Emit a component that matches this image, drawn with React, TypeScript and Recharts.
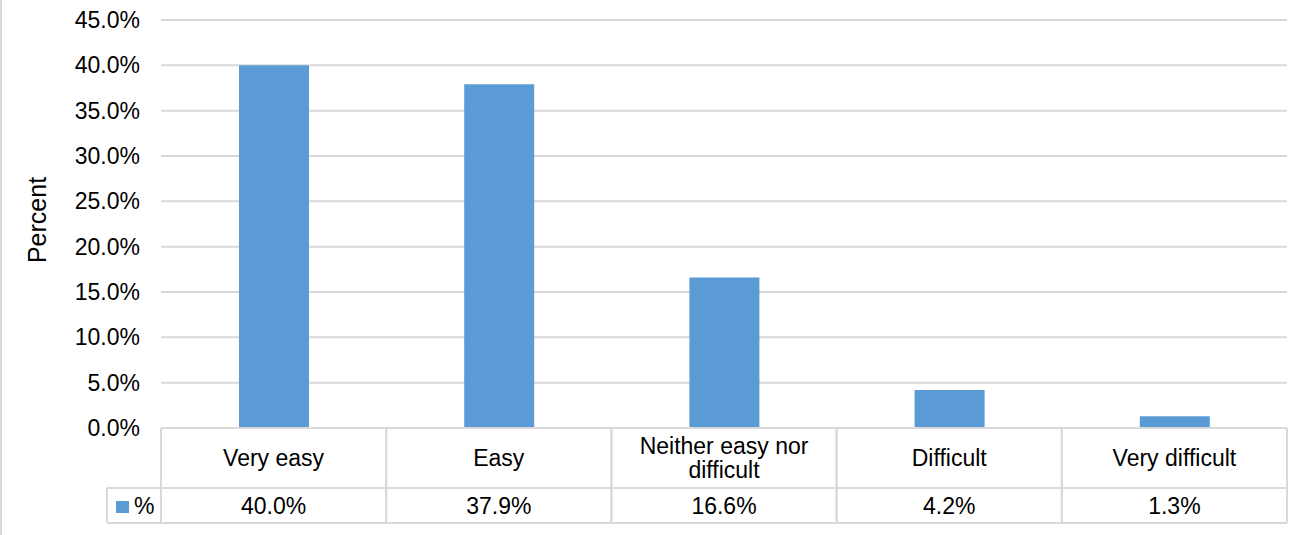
import { BarChart, Bar, XAxis, YAxis, CartesianGrid, Label } from "recharts";

const categories = ["Very easy", "Easy", "Neither easy nor difficult", "Difficult", "Very difficult"];
const percents = [40.0, 37.9, 16.6, 4.2, 1.3];
const yTicks = [0, 5, 10, 15, 20, 25, 30, 35, 40, 45];
const seriesName = "%";
const axisTitle = "Percent";

const data = categories.map((category, i) => ({ category, value: percents[i] }));

const W = 1312;
const H = 535;
const PLOT_LEFT = 161;
const PLOT_RIGHT = 25;
const PLOT_TOP = 20;
const TABLE_H = 107;
const ROW1 = 60;
const ROW2 = 35;
const LINE_H = 24;
const BORDER = "#d9d9d9";
const BLUE = "#5b9bd5";
const FONT = "'Liberation Sans', Arial, sans-serif";
const FS = 23;

const fmt = (v: number) => `${v.toFixed(1)}%`;

// word wrap with canvas text measurement
let ctx: CanvasRenderingContext2D | null = null;
function wrap(text: string, maxWidth: number): string[] {
  if (!ctx) ctx = document.createElement("canvas").getContext("2d");
  if (!ctx) return [text];
  ctx.font = `${FS}px ${FONT}`;
  const words = text.split(" ");
  const lines: string[] = [];
  let cur = "";
  for (const w of words) {
    const next = cur ? `${cur} ${w}` : w;
    if (cur && ctx.measureText(next).width > maxWidth) {
      lines.push(cur);
      cur = w;
    } else {
      cur = next;
    }
  }
  if (cur) lines.push(cur);
  return lines;
}

// Draws one column of the data table under the plot (category + value cells)
function TableTick(props: any) {
  const { x, y, payload, index } = props;
  const band = (W - PLOT_LEFT - PLOT_RIGHT) / categories.length;
  const left = x - band / 2;
  const right = x + band / 2;
  const bottom = y + ROW1 + ROW2;
  const i = categories.indexOf(payload.value);
  const lines = wrap(String(payload.value), band - 30);
  const firstY = y + ROW1 / 2 - ((lines.length - 1) * LINE_H) / 2;
  return (
    <g>
      <line x1={left} y1={y} x2={left} y2={bottom} stroke={BORDER} strokeWidth={2} />
      <line x1={right} y1={y} x2={right} y2={bottom} stroke={BORDER} strokeWidth={2} />
      <line x1={left} y1={y + ROW1} x2={right} y2={y + ROW1} stroke={BORDER} strokeWidth={2} />
      <line x1={left} y1={bottom} x2={right} y2={bottom} stroke={BORDER} strokeWidth={2} />
      <text textAnchor="middle" dominantBaseline="central" fontSize={FS} fontFamily={FONT} fill="#000">
        {lines.map((ln, k) => (
          <tspan key={k} x={x} y={firstY + k * LINE_H}>
            {ln}
          </tspan>
        ))}
      </text>
      <text
        x={x}
        y={y + ROW1 + ROW2 / 2}
        textAnchor="middle"
        dominantBaseline="central"
        fontSize={FS}
        fontFamily={FONT}
        fill="#000"
      >
        {fmt(percents[i])}
      </text>
      {index === 0 && (
        <g>
          <line x1={left - 54} y1={y + ROW1} x2={left - 54} y2={bottom} stroke={BORDER} strokeWidth={2} />
          <line x1={left - 54} y1={y + ROW1} x2={left} y2={y + ROW1} stroke={BORDER} strokeWidth={2} />
          <line x1={left - 54} y1={bottom} x2={left} y2={bottom} stroke={BORDER} strokeWidth={2} />
          <rect x={left - 45} y={y + ROW1 + 13} width={13} height={12} fill={BLUE} />
          <text
            x={left - 27}
            y={y + ROW1 + ROW2 / 2}
            dominantBaseline="central"
            fontSize={FS}
            fontFamily={FONT}
            fill="#000"
          >
            {seriesName}
          </text>
        </g>
      )}
    </g>
  );
}

function YTitle(props: any) {
  const vb = props.viewBox;
  const cx = 37;
  const cy = vb.y + vb.height / 2 - 4;
  return (
    <text
      x={cx}
      y={cy}
      transform={`rotate(-90 ${cx} ${cy})`}
      textAnchor="middle"
      dominantBaseline="central"
      fontSize={25}
      fontFamily={FONT}
      fill="#000"
    >
      {axisTitle}
    </text>
  );
}

export default function App() {
  return (
    <div style={{ position: "fixed", left: 0, top: 0, width: W, height: H, background: "#fff" }}>
      <div style={{ position: "absolute", left: 0, top: 0, width: 2, height: H, background: BORDER }} />
      <BarChart
        width={W}
        height={H}
        data={data}
        margin={{ top: PLOT_TOP, right: PLOT_RIGHT, bottom: 0, left: 0 }}
      >
        <CartesianGrid vertical={false} stroke={BORDER} strokeWidth={2} />
        <XAxis
          dataKey="category"
          height={TABLE_H}
          tickSize={0}
          tickMargin={0}
          tickLine={false}
          axisLine={{ stroke: BORDER, strokeWidth: 2 }}
          interval={0}
          tick={<TableTick />}
        />
        <YAxis
          width={PLOT_LEFT}
          domain={[0, 45]}
          ticks={yTicks}
          tickFormatter={fmt}
          tickSize={0}
          tickMargin={21}
          axisLine={false}
          tickLine={false}
          tick={{ fontSize: FS, fontFamily: FONT, fill: "#000" }}
        >
          <Label content={<YTitle />} />
        </YAxis>
        <Bar dataKey="value" fill={BLUE} barSize={70} isAnimationActive={false} />
      </BarChart>
    </div>
  );
}
